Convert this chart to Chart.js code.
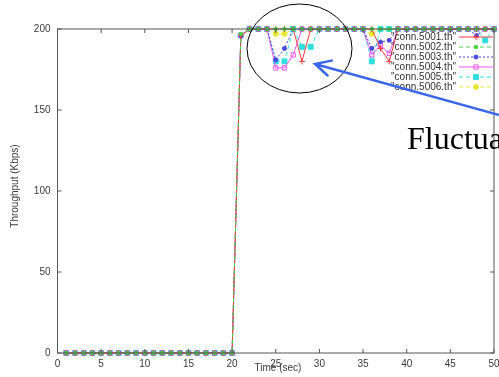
<!DOCTYPE html>
<html>
<head>
<meta charset="utf-8">
<script src="https://cdn.jsdelivr.net/npm/chart.js@4/dist/chart.umd.min.js"></script>
<style>
  html, body { margin: 0; padding: 0; background: #fff; overflow: hidden; }
</style>
</head>
<body>
<canvas id="myChart" width="499" height="377"></canvas>
<script>
// time axis, one sample per second
const times = [1,2,3,4,5,6,7,8,9,10, 11,12,13,14,15,16,17,18,19,20,
               21,22,23,24,25,26,27,28,29,30, 31,32,33,34,35,36,37,38,39,40,
               41,42,43,44,45,46,47,48,49,50];

// throughput per connection (Kbps)
const conn5001 = [0,0,0,0,0,0,0,0,0,0, 0,0,0,0,0,0,0,0,0,0,
                  196,200,200,200,200,200,200,180,200,200, 200,200,200,200,200,200,188,180,200,200,
                  200,200,200,200,200,200,200,200,200,200];
const conn5002 = [0,0,0,0,0,0,0,0,0,0, 0,0,0,0,0,0,0,0,0,0,
                  197,200,200,200,200,200,200,200,200,200, 200,200,200,200,200,200,200,200,200,200,
                  200,200,200,200,200,200,200,200,200,200];
const conn5003 = [0,0,0,0,0,0,0,0,0,0, 0,0,0,0,0,0,0,0,0,0,
                  196,200,200,200,181,188,200,200,200,200, 200,200,200,200,200,188,192,193,200,200,
                  200,200,200,200,200,200,200,196,200,200];
const conn5004 = [0,0,0,0,0,0,0,0,0,0, 0,0,0,0,0,0,0,0,0,0,
                  196,200,200,200,176,176,184,200,200,200, 200,200,200,200,200,184,190,185,200,200,
                  200,200,200,200,200,200,200,200,200,200];
const conn5005 = [0,0,0,0,0,0,0,0,0,0, 0,0,0,0,0,0,0,0,0,0,
                  196,200,200,200,180,180,200,189,189,200, 200,200,200,200,200,180,200,200,200,200,
                  200,200,200,200,200,200,200,200,193,200];
const conn5006 = [0,0,0,0,0,0,0,0,0,0, 0,0,0,0,0,0,0,0,0,0,
                  196,200,200,200,197,197,200,200,200,200, 200,200,200,200,200,197,200,200,200,200,
                  200,200,200,200,200,200,200,200,200,200];

const xTicks = [0, 5, 10, 15, 20, 25, 30, 35, 40, 45, 50];
const yTicks = [0, 50, 100, 150, 200];

const FONT = '"Liberation Sans", Arial, sans-serif';

function pts(vals) {
  return times.map((t, i) => ({ x: t, y: vals[i] }));
}

function series(label, vals, color, style, radius, dash, fill, order) {
  return {
    label: label,
    data: pts(vals),
    borderColor: color,
    backgroundColor: fill,
    borderWidth: 1,
    borderDash: dash,
    pointStyle: style,
    pointRadius: radius,
    pointBorderColor: color,
    pointBackgroundColor: fill,
    pointBorderWidth: 1,
    clip: false,
    order: order
  };
}

const datasets = [
  series('conn.5001.th', conn5001, '#f04040', 'cross', 3, [], '#f04040', 1),
  series('conn.5002.th', conn5002, '#48d448', 'rect', 2, [4, 3], '#48d448', 0),
  series('conn.5003.th', conn5003, '#4646e0', 'circle', 2, [2, 2], '#4646e0', 2),
  series('conn.5004.th', conn5004, '#ee55ee', 'rect', 3, [], 'rgba(0,0,0,0)', 3),
  series('conn.5005.th', conn5005, '#30dede', 'rect', 3.5, [4, 3], '#30dede', 4),
  series('conn.5006.th', conn5006, '#e6e633', 'circle', 2.5, [4, 3], '#e6e633', 5)
];

function drawMark(ctx, ds, x, y) {
  ctx.save();
  ctx.setLineDash([]);
  ctx.strokeStyle = ds.pointBorderColor;
  ctx.fillStyle = ds.pointBackgroundColor;
  ctx.lineWidth = 1;
  if (Chart.helpers && Chart.helpers.drawPoint) {
    Chart.helpers.drawPoint(ctx, { pointStyle: ds.pointStyle, radius: ds.pointRadius, borderWidth: 1, rotation: 0 }, x, y);
  }
  ctx.restore();
}

const overlay = {
  id: 'overlay',
  afterDraw(chart) {
    const ctx = chart.ctx;
    const a = chart.chartArea;
    const xs = chart.scales.x, ys = chart.scales.y;
    ctx.save();

    // frame + inward ticks
    ctx.strokeStyle = '#555';
    ctx.lineWidth = 1;
    ctx.strokeRect(a.left, a.top, a.right - a.left, a.bottom - a.top);
    ctx.beginPath();
    xTicks.forEach(v => {
      const px = xs.getPixelForValue(v);
      ctx.moveTo(px, a.bottom); ctx.lineTo(px, a.bottom - 4);
      ctx.moveTo(px, a.top); ctx.lineTo(px, a.top + 4);
    });
    yTicks.forEach(v => {
      const py = ys.getPixelForValue(v);
      ctx.moveTo(a.left, py); ctx.lineTo(a.left + 4, py);
      ctx.moveTo(a.right, py); ctx.lineTo(a.right - 4, py);
    });
    ctx.stroke();

    // axis titles
    ctx.fillStyle = '#3a3a3a';
    ctx.font = '10px ' + FONT;
    ctx.textAlign = 'center';
    ctx.textBaseline = 'middle';
    ctx.fillText('Time (sec)', 278, 368);
    ctx.save();
    ctx.translate(15, 186);
    ctx.rotate(-Math.PI / 2);
    ctx.fillText('Throughput (Kbps)', 0, 0);
    ctx.restore();

    // gnuplot style key
    chart.data.datasets.forEach((ds, i) => {
      const y = 37 + 10 * i;
      ctx.fillStyle = '#333';
      ctx.textAlign = 'right';
      ctx.fillText('"' + ds.label + '"', 456, y);
      ctx.strokeStyle = ds.borderColor;
      ctx.setLineDash(ds.borderDash);
      ctx.beginPath();
      ctx.moveTo(459, y); ctx.lineTo(493, y);
      ctx.stroke();
      ctx.setLineDash([]);
      drawMark(ctx, ds, 476, y);
    });

    // annotation: ellipse, arrow, text
    ctx.strokeStyle = '#000';
    ctx.lineWidth = 1;
    ctx.beginPath();
    ctx.ellipse(299.5, 48.5, 52.5, 44.5, 0, 0, Math.PI * 2);
    ctx.stroke();

    const tipX = 315, tipY = 64, tailX = 510, tailY = 118;
    const ang = Math.atan2(tailY - tipY, tailX - tipX);
    ctx.strokeStyle = '#3a66e8';
    ctx.lineWidth = 2.5;
    ctx.lineCap = 'round';
    ctx.beginPath();
    ctx.moveTo(tailX, tailY); ctx.lineTo(tipX, tipY);
    ctx.moveTo(tipX + 17 * Math.cos(ang - 0.47), tipY + 17 * Math.sin(ang - 0.47));
    ctx.lineTo(tipX, tipY);
    ctx.lineTo(tipX + 17 * Math.cos(ang + 0.47), tipY + 17 * Math.sin(ang + 0.47));
    ctx.stroke();

    ctx.fillStyle = '#000';
    ctx.font = '32px "Liberation Serif", "Times New Roman", serif';
    ctx.textAlign = 'left';
    ctx.textBaseline = 'alphabetic';
    ctx.fillText('Fluctuations', 407, 149);

    ctx.restore();
  }
};

new Chart(document.getElementById('myChart').getContext('2d'), {
  type: 'line',
  data: { datasets: datasets },
  options: {
    responsive: false,
    animation: false,
    layout: { padding: { top: 29, right: 1.5, left: 0, bottom: 0 } },
    plugins: { legend: { display: false }, tooltip: { enabled: false } },
    elements: { line: { tension: 0 } },
    scales: {
      x: {
        type: 'linear', min: 0, max: 50,
        afterBuildTicks: s => { s.ticks = xTicks.map(v => ({ value: v })); },
        ticks: { padding: 5, color: '#3a3a3a', font: { size: 10, family: FONT }, maxRotation: 0, autoSkip: false },
        grid: { display: false, drawTicks: false },
        border: { display: false },
        afterFit: s => { s.height = 24; s.paddingLeft = 0; s.paddingRight = 0; }
      },
      y: {
        min: 0, max: 200,
        afterBuildTicks: s => { s.ticks = yTicks.map(v => ({ value: v })); },
        ticks: { padding: 7, color: '#3a3a3a', font: { size: 10, family: FONT } },
        grid: { display: false, drawTicks: false },
        border: { display: false },
        afterFit: s => { s.width = 57.5; s.paddingTop = 0; s.paddingBottom = 0; }
      }
    }
  },
  plugins: [overlay]
});
</script>
</body>
</html>
